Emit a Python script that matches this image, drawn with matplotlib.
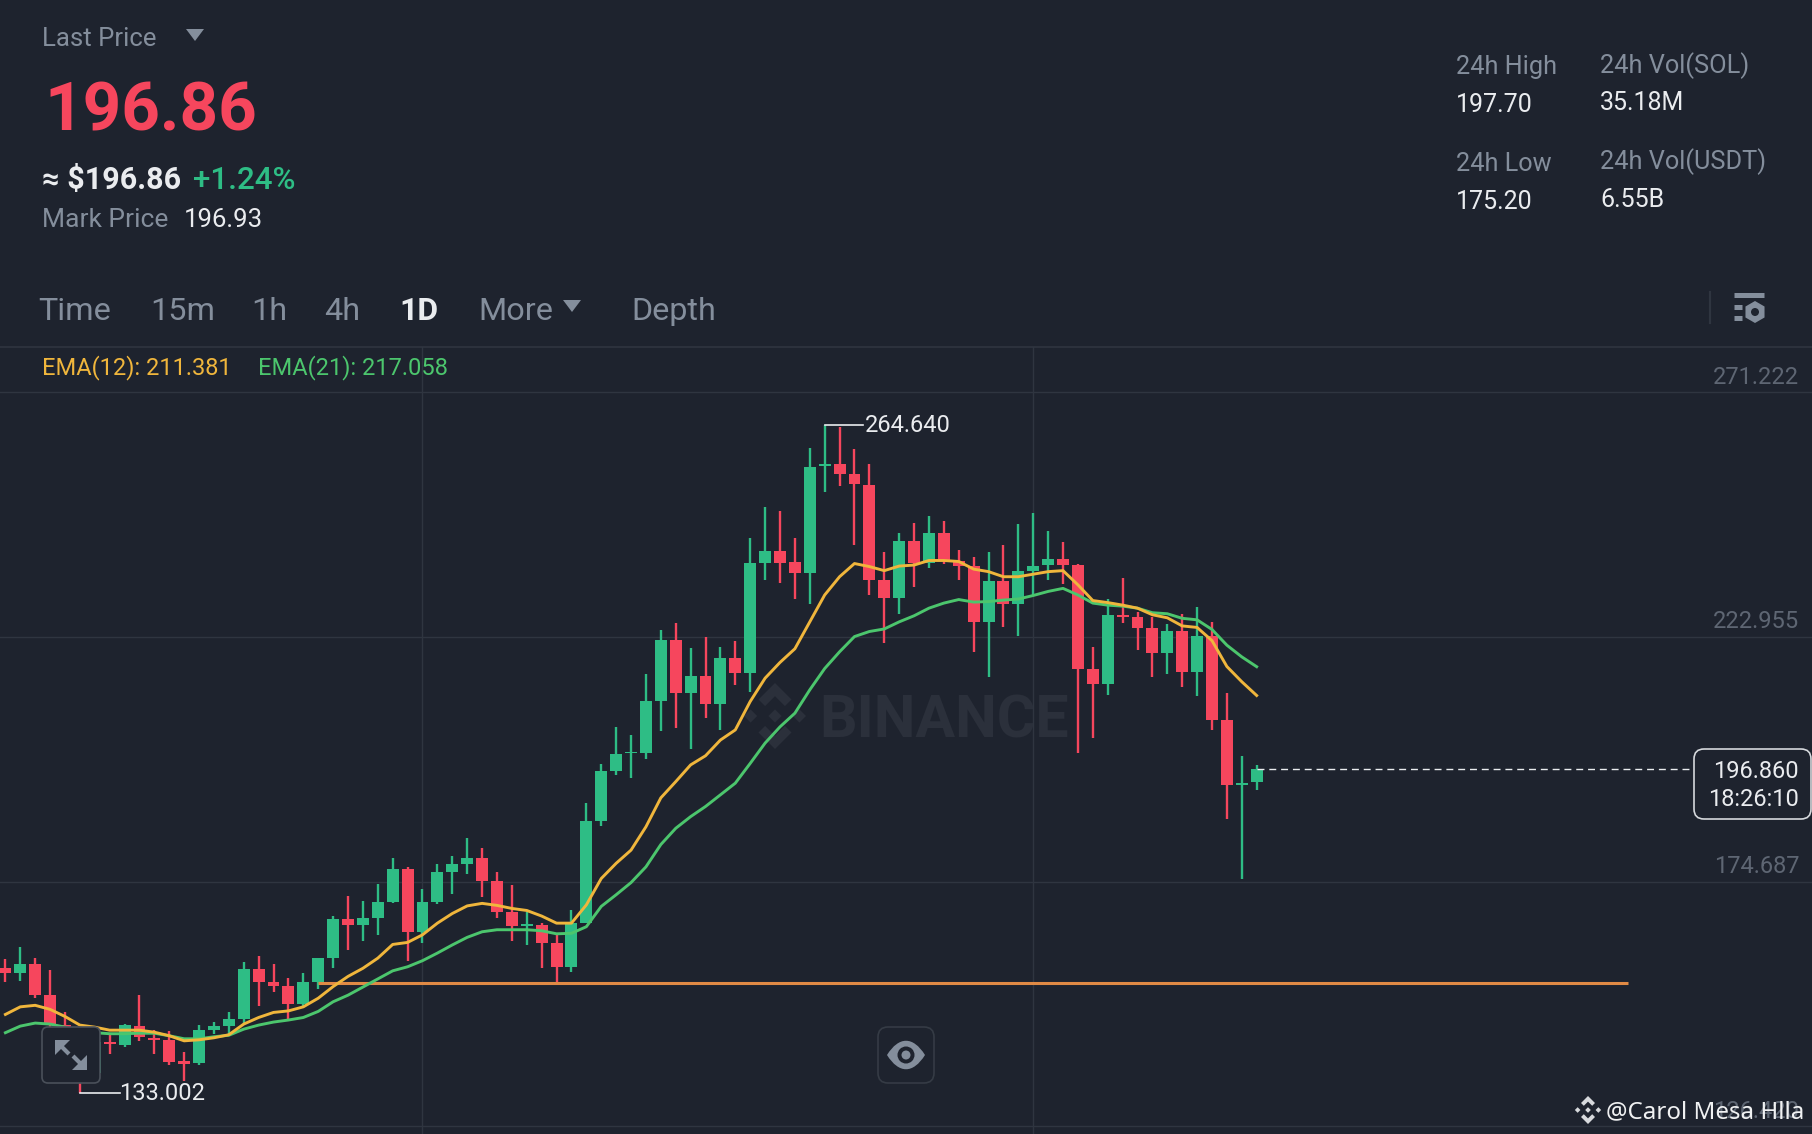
import numpy as np
import matplotlib
matplotlib.use("Agg")
import matplotlib.pyplot as plt
from matplotlib.patches import FancyBboxPatch, Polygon, Circle, PathPatch
from matplotlib.path import Path

# Candles
opens = [157.6, 156.6, 158.4, 152.3, 146.4, 143.8, 136.9, 143.1, 142.5, 146.3, 143.9, 143.5, 139.3, 138.9, 145.4, 146.3, 147.6,
         157.5, 154.8, 154.2, 150.5, 154.8, 159.7, 167.3, 166.1, 167.6, 170.7, 177.1, 164.7, 170.7, 176.6, 178.2, 179.3, 174.8,
         168.6, 166.0, 166.1, 162.5, 157.9, 166.6, 186.6, 196.5, 200.0, 200.0, 210.2, 222.3, 211.8, 215.2, 209.7, 218.7, 215.9,
         237.6, 239.9, 237.7, 235.5, 256.6, 257.0, 255.0, 252.9, 234.2, 230.7, 241.9, 237.6, 243.5, 237.9, 236.9, 225.9, 234.0,
         229.4, 236.0, 237.1, 238.2, 237.2, 216.6, 213.6, 227.2, 226.8, 224.6, 219.8, 224.1, 216.1, 223.1, 206.5, 193.7, 194.3]
closes = [156.6, 158.4, 152.3, 146.4, 144.8, 142.2, 143.1, 142.6, 146.4, 144.0, 143.5, 139.2, 138.7, 145.4, 146.3, 147.6, 157.5,
          154.8, 154.1, 150.5, 154.8, 159.7, 167.4, 166.1, 167.5, 170.7, 177.1, 164.8, 170.7, 176.5, 178.2, 179.3, 174.8, 168.6,
          165.9, 166.4, 162.5, 157.9, 166.5, 186.6, 196.5, 199.9, 200.3, 210.2, 222.3, 211.8, 215.2, 209.7, 218.7, 215.9, 237.6,
          239.9, 237.6, 235.5, 256.5, 257.0, 255.1, 253.0, 234.2, 230.7, 241.9, 237.6, 243.4, 237.9, 237.0, 225.9, 234.0, 229.4,
          236.0, 237.0, 238.2, 237.2, 216.7, 213.6, 227.3, 226.8, 224.7, 219.8, 224.1, 216.1, 223.1, 206.5, 193.7, 194.2, 196.86]
highs = [159.4, 161.7, 159.7, 157.3, 148.9, 145.8, 144.1, 144.5, 146.6, 152.3, 145.4, 145.3, 141.0, 146.4, 147.1, 148.9, 158.9,
         160.0, 158.4, 155.6, 156.6, 159.7, 167.9, 171.9, 170.9, 174.2, 179.3, 177.5, 173.2, 178.2, 179.8, 183.2, 181.3, 176.5,
         174.0, 168.6, 166.5, 164.3, 169.1, 190.1, 197.8, 205.2, 203.6, 215.6, 224.3, 225.6, 220.7, 223.0, 221.0, 222.1, 242.5,
         248.6, 247.8, 242.5, 260.1, 264.64, 264.4, 260.0, 257.0, 239.6, 243.4, 245.3, 246.8, 245.7, 240.1, 238.6, 239.7, 241.1,
         245.1, 247.3, 243.8, 241.7, 237.4, 221.0, 230.5, 234.6, 227.9, 226.9, 225.5, 227.4, 228.9, 225.9, 211.9, 199.5, 197.7]
lows = [154.8, 155.0, 151.7, 145.8, 142.8, 133.002, 136.2, 140.8, 142.0, 143.3, 140.8, 138.5, 135.3, 138.5, 144.6, 144.5, 146.8,
        150.2, 152.9, 147.5, 150.0, 153.5, 157.6, 161.3, 163.0, 164.2, 170.4, 159.1, 162.5, 170.2, 172.3, 176.2, 171.7, 167.5,
        163.0, 162.1, 157.7, 154.8, 156.8, 166.5, 185.7, 195.7, 195.1, 198.8, 204.3, 205.0, 200.8, 206.9, 204.6, 213.5, 212.1,
        234.2, 233.5, 230.5, 229.4, 251.6, 252.7, 241.1, 231.2, 221.7, 227.4, 232.7, 236.5, 237.4, 234.2, 220.0, 215.1, 224.8,
        223.2, 231.2, 234.2, 233.4, 200.0, 203.1, 211.4, 225.6, 220.4, 215.0, 215.6, 213.1, 211.2, 204.6, 187.0, 175.2, 192.8]

ema12 = [148.5, 150.0, 150.3, 149.5, 148.1, 146.4, 146.0, 145.4, 145.4, 145.4, 145.0, 144.3, 143.3, 143.5, 143.9, 144.5, 146.6,
         147.9, 148.9, 149.2, 150.0, 151.7, 154.0, 156.0, 157.6, 159.6, 162.3, 162.7, 164.2, 166.5, 168.4, 169.9, 170.4, 170.0,
         169.4, 169.0, 167.9, 166.5, 166.5, 170.1, 175.3, 178.3, 180.9, 185.5, 191.2, 194.4, 197.7, 199.5, 202.6, 204.6, 210.2,
         214.8, 217.9, 220.6, 225.9, 231.2, 234.8, 237.4, 236.8, 236.0, 236.9, 237.1, 238.0, 238.0, 237.8, 236.3, 235.8, 234.8,
         234.8, 235.3, 235.8, 236.0, 233.2, 230.1, 229.7, 229.2, 228.6, 227.3, 226.7, 225.1, 224.8, 222.2, 217.1, 214.1, 211.381]
ema21 = [144.9, 146.2, 146.8, 146.6, 146.0, 145.1, 144.9, 144.7, 144.7, 144.8, 144.8, 144.3, 143.7, 143.7, 144.1, 144.4, 145.6,
         146.4, 147.0, 147.4, 147.9, 149.1, 151.0, 152.3, 153.9, 155.5, 157.1, 157.9, 159.1, 160.6, 162.2, 163.7, 164.8, 165.2,
         165.2, 165.2, 165.0, 164.4, 164.5, 165.8, 169.8, 172.1, 174.5, 177.6, 182.0, 185.2, 187.5, 189.5, 191.8, 194.1, 198.0,
         202.0, 205.2, 207.9, 212.5, 216.7, 220.0, 223.0, 224.0, 224.5, 225.9, 227.1, 228.6, 229.6, 230.3, 229.8, 229.9, 230.2,
         230.4, 231.1, 231.9, 232.5, 231.2, 229.6, 229.2, 229.0, 228.6, 227.7, 227.5, 226.6, 226.3, 224.4, 221.3, 219.0, 217.058]

grid_prices = [271.222, 222.955, 174.687, 126.420]
grid_labels = ["271.222", "222.955", "174.687", "126.420"]
grid_days = [28, 69]
support_price = 154.77
support_days = [21, 108.9]
last_price = 196.86
tabs = ["Time", "15m", "1h", "4h", "1D", "More", "Depth"]
tab_x = [38, 150, 251, 324, 399, 478, 631]

bg = "#1E232E"
red = "#F6465D"
green = "#2EBD85"
gray = "#848E9C"
dimgray = "#5E6673"
white = "#EAECEF"
gridc = "#2F3540"

fig = plt.figure(figsize=(18.12, 11.34), dpi=100, facecolor=bg)
plt.rcParams["font.family"] = ["Roboto", "DejaVu Sans"]

# background layer: watermark logo and text, in pixels
back = fig.add_axes([0, 0, 1, 1], zorder=0)
back.set_xlim(0, 1812)
back.set_ylim(1134, 0)
back.axis("off")


def logo(axe, cx, cy, r, color):
    s = 0.2
    for dx, dy in [(0, 0), (-0.74, 0), (0.74, 0)]:
        axe.add_patch(Polygon([(cx + (dx - s) * r, cy + dy * r), (cx + dx * r, cy - s * r), (cx + (dx + s) * r, cy + dy * r),
                               (cx + dx * r, cy + s * r)], color=color, lw=0))
    for sign in [1, -1]:
        pts = [(0, 1), (0.5, 0.5), (0.3, 0.3), (0, 0.6), (-0.3, 0.3), (-0.5, 0.5)]
        axe.add_patch(Polygon([(cx + a * r, cy - sign * b * r) for a, b in pts], color=color, lw=0))


logo(back, 775, 716, 33, "#2B303B")
back.text(819, 721, "BINANCE", color="#2B303B", fontsize=42.5, fontweight="bold", va="center")

# candle chart, from y=347 px to the bottom
ax = fig.add_axes([0, 0, 1, (1134 - 347) / 1134], zorder=1)
ax.patch.set_alpha(0)
ax.set_xlim(-0.3625, 121.28)
ax.set_ylim(124.93, 280.09)
ax.set_frame_on(False)
ax.set_xticks(grid_days)
ax.set_yticks(grid_prices)
ax.tick_params(length=0, labelleft=False, labelbottom=False)
ax.grid(True, color=gridc, lw=1.0)
ax.set_axisbelow(True)

days = np.arange(len(opens))
o = np.array(opens)
c = np.array(closes)
colors = [green if c[i] >= o[i] else red for i in days]
ax.vlines(days, lows, highs, colors=colors, lw=1.7, zorder=2)
ax.bar(days, np.abs(c - o), bottom=np.minimum(o, c), width=0.8, color=colors, zorder=3)

ax.plot(support_days, [support_price, support_price], color="#E08A45", lw=2.2, zorder=4, solid_capstyle="butt")
ax.plot(days, ema21, color="#4CC66D", lw=2.1, zorder=5)
ax.plot(days, ema12, color="#F0B63C", lw=2.1, zorder=6)

ax.plot([84, 113.36], [last_price, last_price], color=white, lw=1, linestyle=(0, (5, 3.5)), zorder=4)

for p, s in zip(grid_prices, grid_labels):
    ax.annotate(s, xy=(1, p), xycoords=("axes fraction", "data"), xytext=(-9, 2.5), textcoords="offset points",
                ha="right", va="bottom", color=dimgray, fontsize=17)

# high and low marks
ax.plot([55, 57.6], [highs[55], highs[55]], color=white, lw=1.2, zorder=4)
ax.annotate("264.640", xy=(57.6, highs[55]), xytext=(1, 0), textcoords="offset points", color=white, fontsize=17, va="center")
ax.plot([5, 7.7], [lows[5], lows[5]], color=white, lw=1.2, zorder=4)
ax.annotate("133.002", xy=(7.7, lows[5]), xytext=(-0.5, 0), textcoords="offset points", color=white, fontsize=17, va="center")

# top layer: header and buttons, in pixels
ui = fig.add_axes([0, 0, 1, 1], zorder=2)
ui.set_xlim(0, 1812)
ui.set_ylim(1134, 0)
ui.axis("off")
ui.patch.set_alpha(0)


def label(x, y, s, color=gray, size=17.5, **kw):
    # va=center sits a little high for digits and capitals
    ui.text(x, y + 0.09 * size, s, color=color, fontsize=size, va="center", **kw)


label(42, 37, "Last Price", size=18.5)
ui.add_patch(Polygon([(186, 29), (204, 29), (195, 41)], color=gray, lw=0))
label(44, 108, "196.86", color=red, size=48.5, fontweight="bold")
label(42, 178, "≈ $196.86", color=white, size=22, fontweight="bold")
label(193, 178, "+1.24%", color=green, size=22.5, fontweight="medium")
label(42, 218, "Mark Price", size=19)
label(184, 218, "196.93", color=white, size=18.5)

for x, s in zip(tab_x, tabs):
    if s == "1D":
        label(x, 309, s, color=white, size=23, fontweight="bold")
    else:
        label(x, 309, s, size=23.3)
ui.add_patch(Polygon([(563, 300), (581, 300), (572, 312)], color=gray, lw=0))

ui.plot([0, 1812], [347, 347], color=gridc, lw=1.2)
label(42, 366, "EMA(12): 211.381", color="#F0B63C", size=17)
label(258, 366, "EMA(21): 217.058", color="#4CC66D", size=17)

label(1456, 65, "24h High", size=18.2)
label(1600, 64, "24h Vol(SOL)", size=18.3)
label(1456, 103, "197.70", color=white, size=18)
label(1600, 101, "35.18M", color=white, size=18)
label(1456, 162, "24h Low", size=18.2)
label(1600, 160, "24h Vol(USDT)", size=18.3)
label(1456, 200, "175.20", color=white, size=18)
label(1600, 198, "6.55B", color=white, size=18)

# settings icon
ui.plot([1710, 1710], [292, 323], color=gridc, lw=1.6)
ui.plot([1734, 1764], [294.5, 294.5], color=gray, lw=3.6, solid_capstyle="butt")
ui.plot([1734, 1742], [306.5, 306.5], color=gray, lw=3.6, solid_capstyle="butt")
ui.plot([1734, 1742], [317.5, 317.5], color=gray, lw=3.6, solid_capstyle="butt")
hexa = [(1755 + 11 * np.sin(a), 312 + 11 * np.cos(a)) for a in np.arange(6) * np.pi / 3]
ui.add_patch(Polygon(hexa, color=gray, lw=0))
ui.add_patch(Circle((1755, 312), 4, color=bg, lw=0))

# last price box
ui.add_patch(FancyBboxPatch((1704, 759), 97, 50, boxstyle="round,pad=10,rounding_size=10", fc=bg, ec="#D5D8DC", lw=1.2))
label(1799, 770, "196.860", color=white, size=17, ha="right")
label(1799, 798, "18:26:10", color=white, size=17, ha="right")

# expand button
ui.add_patch(FancyBboxPatch((48, 1033), 46, 44, boxstyle="round,pad=6,rounding_size=6", fc=bg, ec="#4A505A", lw=1.2))
ui.add_patch(Polygon([(55, 1040), (70, 1040), (55, 1055)], color=gray, lw=0))
ui.add_patch(Polygon([(87, 1070), (72, 1070), (87, 1055)], color=gray, lw=0))
ui.plot([60, 69], [1045, 1054], color=gray, lw=3, solid_capstyle="butt")
ui.plot([82, 73], [1065, 1056], color=gray, lw=3, solid_capstyle="butt")

# eye button
ui.add_patch(FancyBboxPatch((888, 1037), 36, 36, boxstyle="round,pad=10,rounding_size=10", fc=bg, ec="#353B45", lw=1.2))
eye = Path([(887, 1055), (899, 1036), (913, 1036), (925, 1055), (913, 1074), (899, 1074), (887, 1055)],
           [Path.MOVETO, Path.CURVE4, Path.CURVE4, Path.CURVE4, Path.CURVE4, Path.CURVE4, Path.CURVE4])
ui.add_patch(PathPatch(eye, fc=gray, ec="none"))
ui.add_patch(Circle((906, 1055), 8.5, color=bg, lw=0))
ui.add_patch(Circle((906, 1055), 4.5, color=gray, lw=0))

# author mark
logo(ui, 1588, 1110, 14, "#D8DADD")
ui.text(1606, 1112, "@Carol Mesa Hlla", color="#F0F1F2", fontsize=17.3, family=["Noto Sans", "DejaVu Sans"], va="center")

fig.savefig("out.png", dpi=100, facecolor=bg)
